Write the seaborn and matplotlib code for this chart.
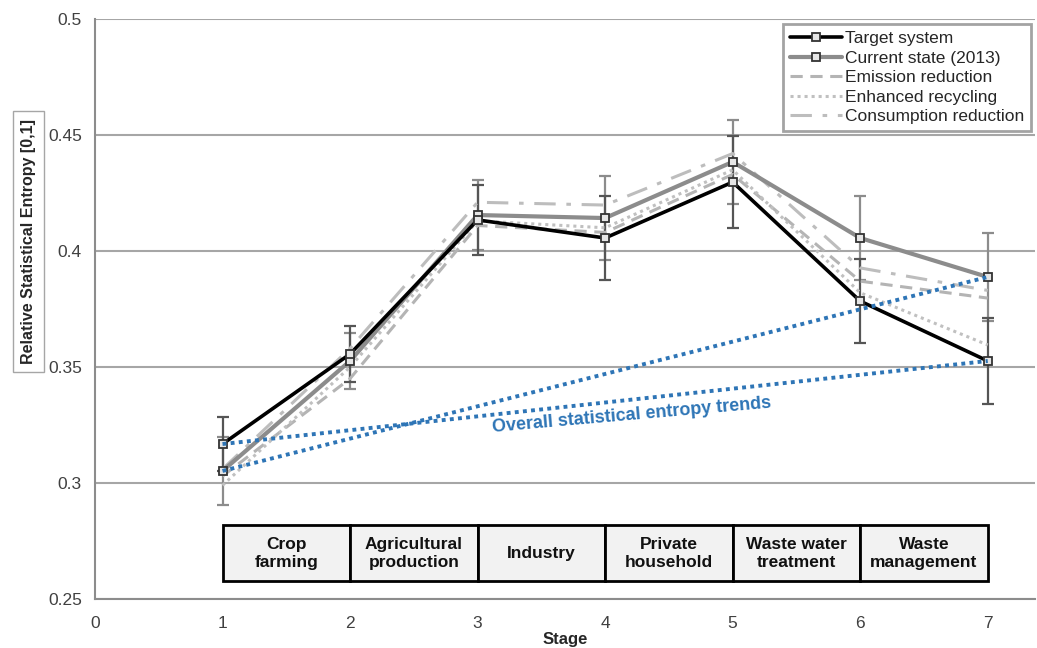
import numpy as np
import pandas as pd
import matplotlib
matplotlib.use("Agg")
from matplotlib import pyplot as plt
from matplotlib.patches import Rectangle
import seaborn as sns

stages = [1, 2, 3, 4, 5, 6, 7]
stage_names = ["Crop\nfarming", "Agricultural\nproduction", "Industry",
               "Private\nhousehold", "Waste water\ntreatment", "Waste\nmanagement"]

target_system = [0.3168, 0.3556, 0.4134, 0.4056, 0.4297, 0.3784, 0.3526]
current_state = [0.3052, 0.3526, 0.4155, 0.4142, 0.4384, 0.4056, 0.3888]
emission_reduction = [0.3030, 0.3450, 0.4110, 0.4080, 0.4330, 0.3870, 0.3797]
enhanced_recycling = [0.2990, 0.3500, 0.4130, 0.4100, 0.4350, 0.3820, 0.3595]
consumption_reduction = [0.3060, 0.3580, 0.4210, 0.4198, 0.4420, 0.3927, 0.3830]

target_err = [0.0117, 0.0120, 0.0150, 0.0180, 0.0200, 0.0180, 0.0185]
current_err = [0.0145, 0.0120, 0.0150, 0.0180, 0.0180, 0.0180, 0.0190]

y_ticks = [0.25, 0.3, 0.35, 0.4, 0.45, 0.5]
y_ticklabels = ["0.25", "0.3", "0.35", "0.4", "0.45", "0.5"]

sns.set_style("white")
plt.rcParams['font.family'] = ['Liberation Sans', 'DejaVu Sans']

fig = plt.figure(figsize=(10.37, 6.48), dpi=100)
ax = fig.add_axes([0.0916, 0.0756, 0.9064, 0.8951])

for y in y_ticks:
    ax.axhline(y, color="#a6a6a6", lw=1.5, zorder=0)

# scenario lines (light gray, no markers)
scen = [
    ("Emission reduction", emission_reduction, "#b4b4b4", (0, (4, 2.5))),
    ("Enhanced recycling", enhanced_recycling, "#c0c0c0", (0, (1, 1.3))),
    ("Consumption reduction", consumption_reduction, "#bdbdbd", (0, (7, 3.5, 1.5, 3.5))),
]

# error bars
ax.errorbar(stages, current_state, yerr=current_err, fmt="none", ecolor="#8c8c8c",
            elinewidth=1.6, capsize=4.5, capthick=1.6, zorder=2)
ax.errorbar(stages, target_system, yerr=target_err, fmt="none", ecolor="#555555",
            elinewidth=1.6, capsize=4.5, capthick=1.6, zorder=2)

sns.lineplot(x=stages, y=target_system, ax=ax, color="black", lw=2.6, marker="s",
             markersize=6, markerfacecolor="#e6e6e6", markeredgecolor="#333333",
             markeredgewidth=1.3, label="Target system", zorder=5)
sns.lineplot(x=stages, y=current_state, ax=ax, color="#8c8c8c", lw=3, marker="s",
             markersize=6, markerfacecolor="#e6e6e6", markeredgecolor="#333333",
             markeredgewidth=1.3, label="Current state (2013)", zorder=4)
for name, vals, col, ls in scen:
    sns.lineplot(x=stages, y=vals, ax=ax, color=col, lw=2.2, linestyle=ls,
                 label=name, zorder=3)

# overall trends between first and last stage
for vals in (target_system, current_state):
    ax.plot([stages[0], stages[-1]], [vals[0], vals[-1]], color="#2E75B6", lw=2.8,
            linestyle=(0, (1, 1.1)), zorder=6)
ax.text(4.21, 0.3290, "Overall statistical entropy trends", color="#2E75B6",
        fontsize=13, fontweight="bold", rotation=5, ha="center", va="center")

# stage boxes
for i, nm in enumerate(stage_names):
    ax.add_patch(Rectangle((stages[i], 0.2578), 1, 0.0241, facecolor="#f2f2f2",
                           edgecolor="black", lw=2, zorder=3))
    ax.text(stages[i] + 0.5, 0.2698, nm, ha="center", va="center", fontsize=12.5,
            fontweight="bold", color="#111111", linespacing=1.25, zorder=4)

ax.set_xlim(0, 7.37)
ax.set_ylim(0.25, 0.5)
ax.set_xticks(range(0, 8))
ax.set_yticks(y_ticks)
ax.set_yticklabels(y_ticklabels)
ax.tick_params(axis="both", labelsize=12.5, colors="#404040", length=6, width=1.2,
               direction="out", labelcolor="#404040")
ax.tick_params(axis="x", pad=6)
for s in ["top", "right"]:
    ax.spines[s].set_visible(False)
ax.spines["left"].set_color("#8c8c8c")
ax.spines["bottom"].set_color("#8c8c8c")
ax.spines["left"].set_linewidth(1.5)
ax.spines["bottom"].set_linewidth(1.5)

ax.set_xlabel("Stage", fontsize=12, fontweight="bold", labelpad=1)
ax.set_ylabel("Relative Statistical Entropy [0,1]", fontsize=11.5, fontweight="bold",
              bbox=dict(boxstyle="square,pad=0.5", facecolor="white", edgecolor="#a6a6a6"))
ax.yaxis.set_label_coords(-0.063, 0.617)

leg = ax.legend(loc="upper right", bbox_to_anchor=(1.0, 0.997), fontsize=12.5,
                frameon=True, fancybox=False, handlelength=3.0, handletextpad=0.2,
                borderpad=0.4, labelspacing=0.25, borderaxespad=0.2)
leg.get_frame().set_edgecolor("#8c8c8c")
leg.get_frame().set_linewidth(2)

fig.savefig("out.png", dpi=100)
